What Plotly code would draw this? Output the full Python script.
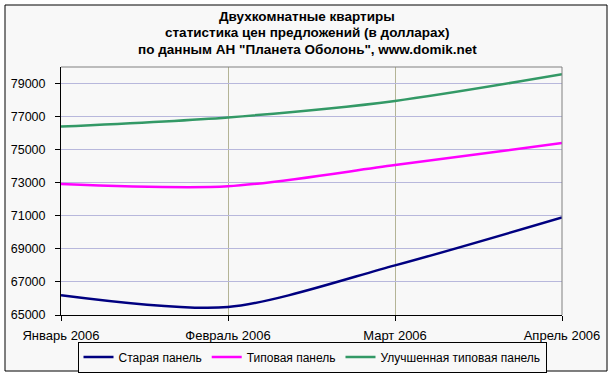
import plotly.graph_objects as go

months = ["Январь 2006", "Февраль 2006", "Март 2006", "Апрель 2006"]
old_panel = [66200, 65480, 68000, 70900]
typical_panel = [72920, 72780, 74070, 75400]
improved_panel = [76400, 76950, 77950, 79560]
title_lines = [
    "Двухкомнатные квартиры",
    "статистика цен предложений (в долларах)",
    "по данным АН \"Планета Оболонь\", www.domik.net",
]

series = [
    ("Старая панель", old_panel, "#000080"),
    ("Типовая панель", typical_panel, "#FF00FF"),
    ("Улучшенная типовая панель", improved_panel, "#339966"),
]

x = list(range(len(months)))
fig = go.Figure()
for name, vals, color in series:
    fig.add_trace(go.Scatter(
        x=x, y=vals, name=name, mode="lines",
        line=dict(color=color, width=2.5, shape="spline", smoothing=0.8),
    ))

L, R, T, B = 61, 50, 67, 63
pw, ph = 612 - L - R, 378 - T - B

def px_x(p):
    return (p - L) / pw

def px_y(p):
    return (378 - B - p) / ph

annotations = []
for i, line in enumerate(title_lines):
    annotations.append(dict(
        text="<b>" + line + "</b>", xref="paper", yref="paper",
        x=px_x(307), y=px_y(16 + 17 * i), xanchor="center", yanchor="middle",
        showarrow=False, font=dict(size=13.5, color="black"),
    ))

fig.update_layout(
    width=612, height=378,
    margin=dict(l=L, r=R, t=T, b=B, autoexpand=False),
    paper_bgcolor="white",
    plot_bgcolor="#FFFFCC",
    font=dict(family="Liberation Sans, Arial, sans-serif", size=12, color="black"),
    annotations=annotations,
    showlegend=True,
    legend=dict(
        orientation="h", x=px_x(312), xanchor="center", y=px_y(357), yanchor="middle",
        bordercolor="black", borderwidth=1, bgcolor="#F8F8F8",
        font=dict(size=12), itemwidth=30, tracegroupgap=0,
    ),
    xaxis=dict(
        range=[0, 3], tickvals=x, ticktext=months,
        showgrid=True, gridcolor="#B4B496", gridwidth=1,
        showline=True, linecolor="black", linewidth=1,
        ticks="outside", ticklen=5, tickcolor="black",
        tickfont=dict(size=13), ticklabelstandoff=3,
        zeroline=False, fixedrange=True, automargin=False,
    ),
    yaxis=dict(
        range=[65000, 80000], tick0=65000, dtick=2000,
        showgrid=True, gridcolor="#B8B8DC", gridwidth=1,
        showline=True, linecolor="black", linewidth=1,
        ticks="outside", ticklen=5, tickcolor="black",
        tickfont=dict(size=12.5), ticklabelstandoff=7,
        zeroline=False, fixedrange=True, tickformat="d", automargin=False,
    ),
    shapes=[
        dict(type="rect", xref="paper", yref="paper",
             x0=px_x(5), x1=px_x(607), y0=px_y(371), y1=px_y(5),
             line=dict(color="black", width=1), fillcolor="#F8F8F8", layer="below"),
        dict(type="line", xref="paper", yref="paper", x0=0, x1=1, y0=1, y1=1,
             line=dict(color="#808080", width=1)),
        dict(type="line", xref="paper", yref="paper", x0=1, x1=1, y0=0, y1=1,
             line=dict(color="#808080", width=1)),
    ],
)

fig.write_html(
    "out.html",
    config={"displayModeBar": False},
    post_script="document.body.style.margin='0';document.body.style.overflow='hidden';",
)
